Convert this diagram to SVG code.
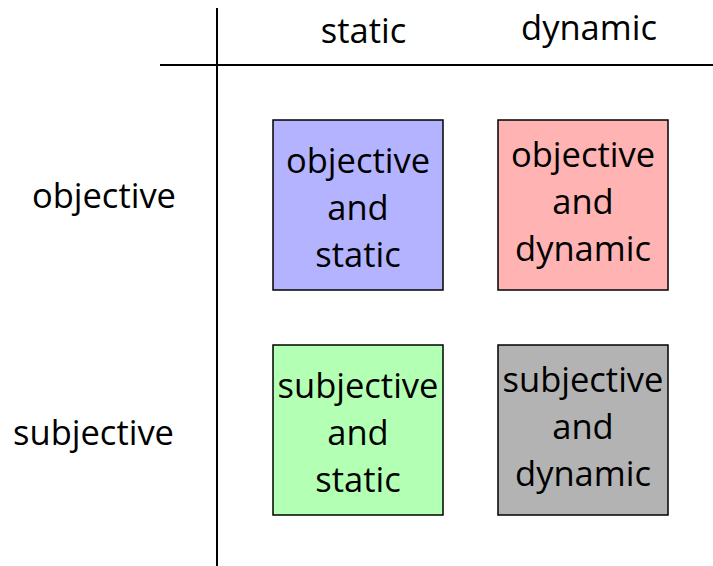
<svg xmlns="http://www.w3.org/2000/svg" width="713" height="566" viewBox="0 0 713 566">
  <style>
    text { font-family: "Open Sans", "Noto Sans", sans-serif; font-size: 34.5px; fill: #000; }
    .c { text-anchor: middle; }
    .r { text-anchor: end; }
    .box { stroke: #000; stroke-width: 1.5; }
    .axis { stroke: #000; stroke-width: 2; fill: none; }
  </style>
  <rect width="713" height="566" fill="#fff"/>

  <!-- axes -->
  <g id="axes">
    <line class="axis" x1="217" y1="8" x2="217" y2="566"/>
    <line class="axis" x1="160" y1="65" x2="713" y2="65"/>
  </g>

  <!-- column and row headers -->
  <g id="headers">
    <text class="c" x="363.5" y="43">static</text>
    <text class="c" x="589" y="40">dynamic</text>
    <text class="r" x="176" y="208">objective</text>
    <text class="r" x="174" y="445">subjective</text>
  </g>

  <g id="objective-static">
    <rect class="box" x="273" y="120" width="170" height="170" fill="#b3b3ff"/>
    <text class="c" x="358" y="173">objective</text>
    <text class="c" x="358" y="220">and</text>
    <text class="c" x="358" y="267">static</text>
  </g>

  <g id="objective-dynamic">
    <rect class="box" x="498" y="120" width="170" height="170" fill="#ffb3b3"/>
    <text class="c" x="583" y="167">objective</text>
    <text class="c" x="583" y="214">and</text>
    <text class="c" x="583" y="261">dynamic</text>
  </g>

  <g id="subjective-static">
    <rect class="box" x="273" y="345" width="170" height="170" fill="#b3ffb3"/>
    <text class="c" x="358" y="398">subjective</text>
    <text class="c" x="358" y="445">and</text>
    <text class="c" x="358" y="492">static</text>
  </g>

  <g id="subjective-dynamic">
    <rect class="box" x="498" y="345" width="170" height="170" fill="#b3b3b3"/>
    <text class="c" x="583" y="392">subjective</text>
    <text class="c" x="583" y="439">and</text>
    <text class="c" x="583" y="486">dynamic</text>
  </g>
</svg>
